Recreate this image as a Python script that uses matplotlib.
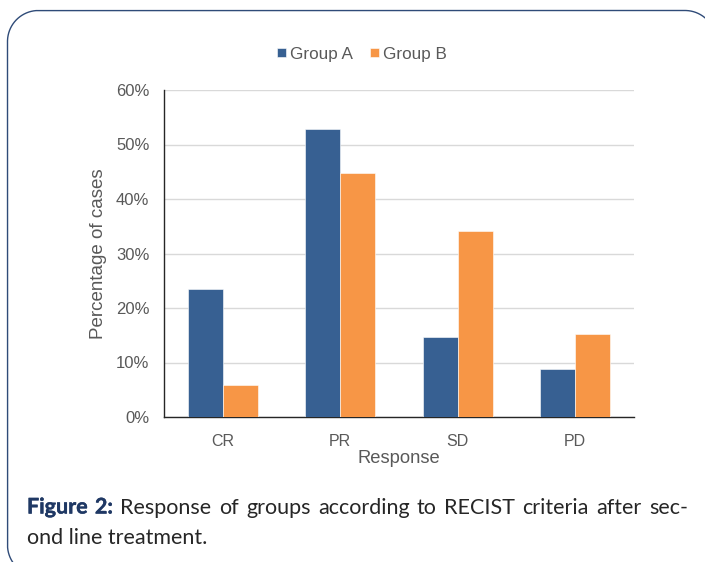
import matplotlib
matplotlib.use("Agg")
import matplotlib.pyplot as plt
import numpy as np
from matplotlib.lines import Line2D
from matplotlib.transforms import IdentityTransform
import matplotlib.patheffects as pe

categories = ["CR", "PR", "SD", "PD"]
group_a = [23.5, 52.9, 14.7, 8.8]
group_b = [5.9, 44.7, 34.1, 15.3]
series_names = ["Group A", "Group B"]
y_ticks = [0, 10, 20, 30, 40, 50, 60]

caption_label = "Figure 2:"
caption_line1 = "Response of groups according to RECIST criteria after sec-"
caption_line2 = "ond line treatment."

blue = "#376092"
orange = "#f79646"
text_gray = "#595959"
navy = "#1f3864"
W, H = 705, 562

fig = plt.figure(figsize=(W / 100, H / 100), dpi=100)
fig.patch.set_facecolor("white")


def rounded_outline(x0, y0, x1, y1, r, n=40):
    """Closed polyline of a rounded rectangle in pixel units (y up)."""
    pts = []
    corners = [(x1 - r, y1 - r, 0, 90), (x0 + r, y1 - r, 90, 180),
               (x0 + r, y0 + r, 180, 270), (x1 - r, y0 + r, 270, 360)]
    for cx, cy, a0, a1 in corners:
        th = np.radians(np.linspace(a0, a1, n))
        pts.extend(zip(cx + r * np.cos(th), cy + r * np.sin(th)))
    pts.append(pts[0])
    return np.array(pts)


# rounded frame around chart and caption
outline = rounded_outline(7.5, H - 576, 716, H - 10.5, 31)
fig.add_artist(Line2D(outline[:, 0], outline[:, 1], transform=IdentityTransform(),
                      color="#2f4b78", linewidth=1.0, clip_on=False))

ax = fig.add_axes([164 / W, 1 - 417 / H, 470 / W, 327 / H])
x = np.arange(len(categories))
w = 0.297
ax.bar(x - w / 2, group_a, w, color=blue, label=series_names[0],
       edgecolor="white", linewidth=0.4, zorder=3)
ax.bar(x + w / 2, group_b, w, color=orange, label=series_names[1],
       edgecolor="white", linewidth=0.4, zorder=3)

ax.set_xlim(-0.5, len(categories) - 0.5)
ax.set_ylim(0, 60)
ax.set_yticks(y_ticks)
ax.set_yticklabels([f"{t}%" for t in y_ticks])
ax.set_xticks(x)
ax.set_xticklabels(categories)
ax.yaxis.grid(True, color="#d9d9d9", linewidth=1.0, zorder=0)
ax.set_axisbelow(True)
for s in ["top", "right"]:
    ax.spines[s].set_visible(False)
for s in ["left", "bottom"]:
    ax.spines[s].set_color("#262626")
    ax.spines[s].set_linewidth(1.0)
ax.tick_params(axis="y", length=0, labelsize=12, labelcolor=text_gray, pad=10.5)
ax.tick_params(axis="x", length=0, labelsize=11.5, labelcolor=text_gray, pad=12)
for lab in ax.get_xticklabels() + ax.get_yticklabels():
    lab.set_family("Liberation Sans")

ax.set_xlabel("Response", fontsize=13.2, color=text_gray,
              family="Liberation Sans")
ax.xaxis.set_label_coords(0.5, (417 - 450) / 327)
ax.set_ylabel("Percentage of cases", fontsize=13.5, color=text_gray,
              family="Liberation Sans")
ax.yaxis.set_label_coords((107 - 164) / 470, 0.5)

leg = fig.legend(loc="center", bbox_to_anchor=(362 / W, 1 - 54 / H),
                 ncol=2, frameon=False, handlelength=0.5, handleheight=0.5,
                 handletextpad=0.25, columnspacing=1.0,
                 prop={"family": "Liberation Sans", "size": 12.3})
for t in leg.get_texts():
    t.set_color(text_gray)

# caption, first line justified between the frame margins
cap_font = "Lato"
cap_size = 15.5
bold_effects = [pe.withStroke(linewidth=0.3, foreground=navy)]

x0, x1 = 27, 688
base1, base2 = 513.5, 543.5
renderer = fig.canvas.get_renderer()

words = [(wd, True) for wd in caption_label.split()] + \
        [(wd, False) for wd in caption_line1.split()]
objs = []
for wd, bold in words:
    t = fig.text(0, 1 - base1 / H, wd, fontsize=cap_size,
                 fontweight="bold" if bold else "normal",
                 color=navy if bold else "#262626",
                 family=cap_font, va="baseline", ha="left")
    if bold:
        t.set_path_effects(bold_effects)
    objs.append(t)
widths = [t.get_window_extent(renderer).width for t in objs]
gap = (x1 - x0 - sum(widths)) / (len(objs) - 1)
pos = x0
for t, wdt in zip(objs, widths):
    t.set_x(pos / W)
    pos += wdt + gap

fig.text(x0 / W, 1 - base2 / H, caption_line2, fontsize=cap_size,
         color="#262626", family=cap_font, va="baseline", ha="left")

fig.savefig("out.png", dpi=100)
